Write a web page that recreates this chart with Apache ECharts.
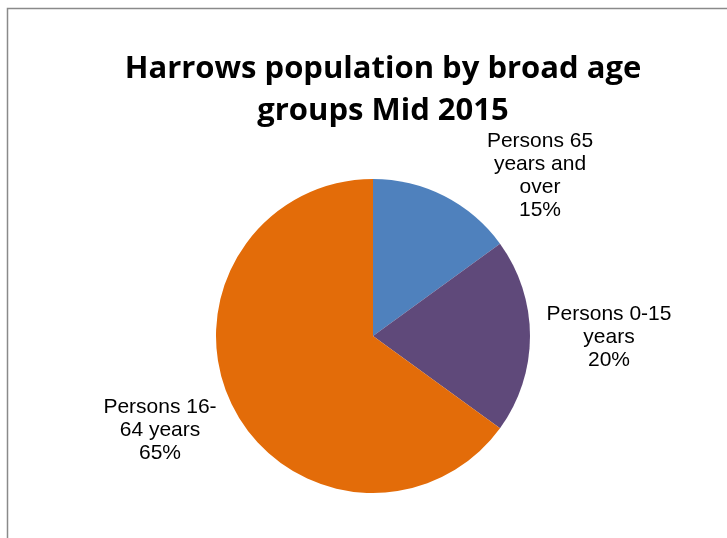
<!DOCTYPE html>
<html>
<head>
<meta charset="utf-8">
<script src="https://cdn.jsdelivr.net/npm/echarts@6/dist/echarts.min.js"></script>
<style>
  html, body { margin: 0; padding: 0; background: #fff; }
  #main { width: 727px; height: 538px; }
</style>
</head>
<body>
<div id="main"></div>
<script>
var categories = ['Persons 65 years and over', 'Persons 0-15 years', 'Persons 16-64 years'];
var labelTexts = ['Persons 65\nyears and\nover', 'Persons 0-15\nyears', 'Persons 16-\n64 years'];
var shares = [15, 20, 65];
var colors = ['#4F81BD', '#5F497A', '#E36C09'];

var myChart = echarts.init(document.getElementById('main'));

// where Excel dropped each label (centre of the text block)
var labelSpots = [
    { x: 540, y: 176 },
    { x: 609, y: 337 },
    { x: 160, y: 430 }
];

var option = {
    animation: false,
    title: {
        text: 'Harrows population by broad age\ngroups Mid 2015',
        left: 378, top: 43, textAlign: 'center',
        textStyle: {
            fontFamily: 'Open Sans', fontWeight: 'bold', fontSize: 31,
            lineHeight: 42, color: '#000'
        }
    },
    graphic: [{
        type: 'rect', silent: true,
        shape: { x: 7.5, y: 8.5, width: 760, height: 600 },
        style: { fill: 'none', stroke: '#8a8a8a', lineWidth: 1.5 }
    }],
    series: [{
        type: 'pie',
        center: [373, 336],
        radius: 157,
        startAngle: 90,
        clockwise: true,
        data: categories.map(function (c, i) {
            return { name: c, value: shares[i], itemStyle: { color: colors[i] } };
        }),
        label: {
            show: true,
            position: 'outside',
            formatter: function (p) {
                return labelTexts[p.dataIndex] + '\n' + p.value + '%';
            },
            fontFamily: 'Liberation Sans',
            fontSize: 21,
            lineHeight: 23,
            color: '#000',
            align: 'center'
        },
        labelLine: { show: false },
        labelLayout: function (params) {
            var s = labelSpots[params.dataIndex];
            return { x: s.x, y: s.y, align: 'center', verticalAlign: 'middle' };
        },
        itemStyle: { borderWidth: 0 },
        emphasis: { disabled: true }
    }]
};
myChart.setOption(option);
</script>
</body>
</html>
